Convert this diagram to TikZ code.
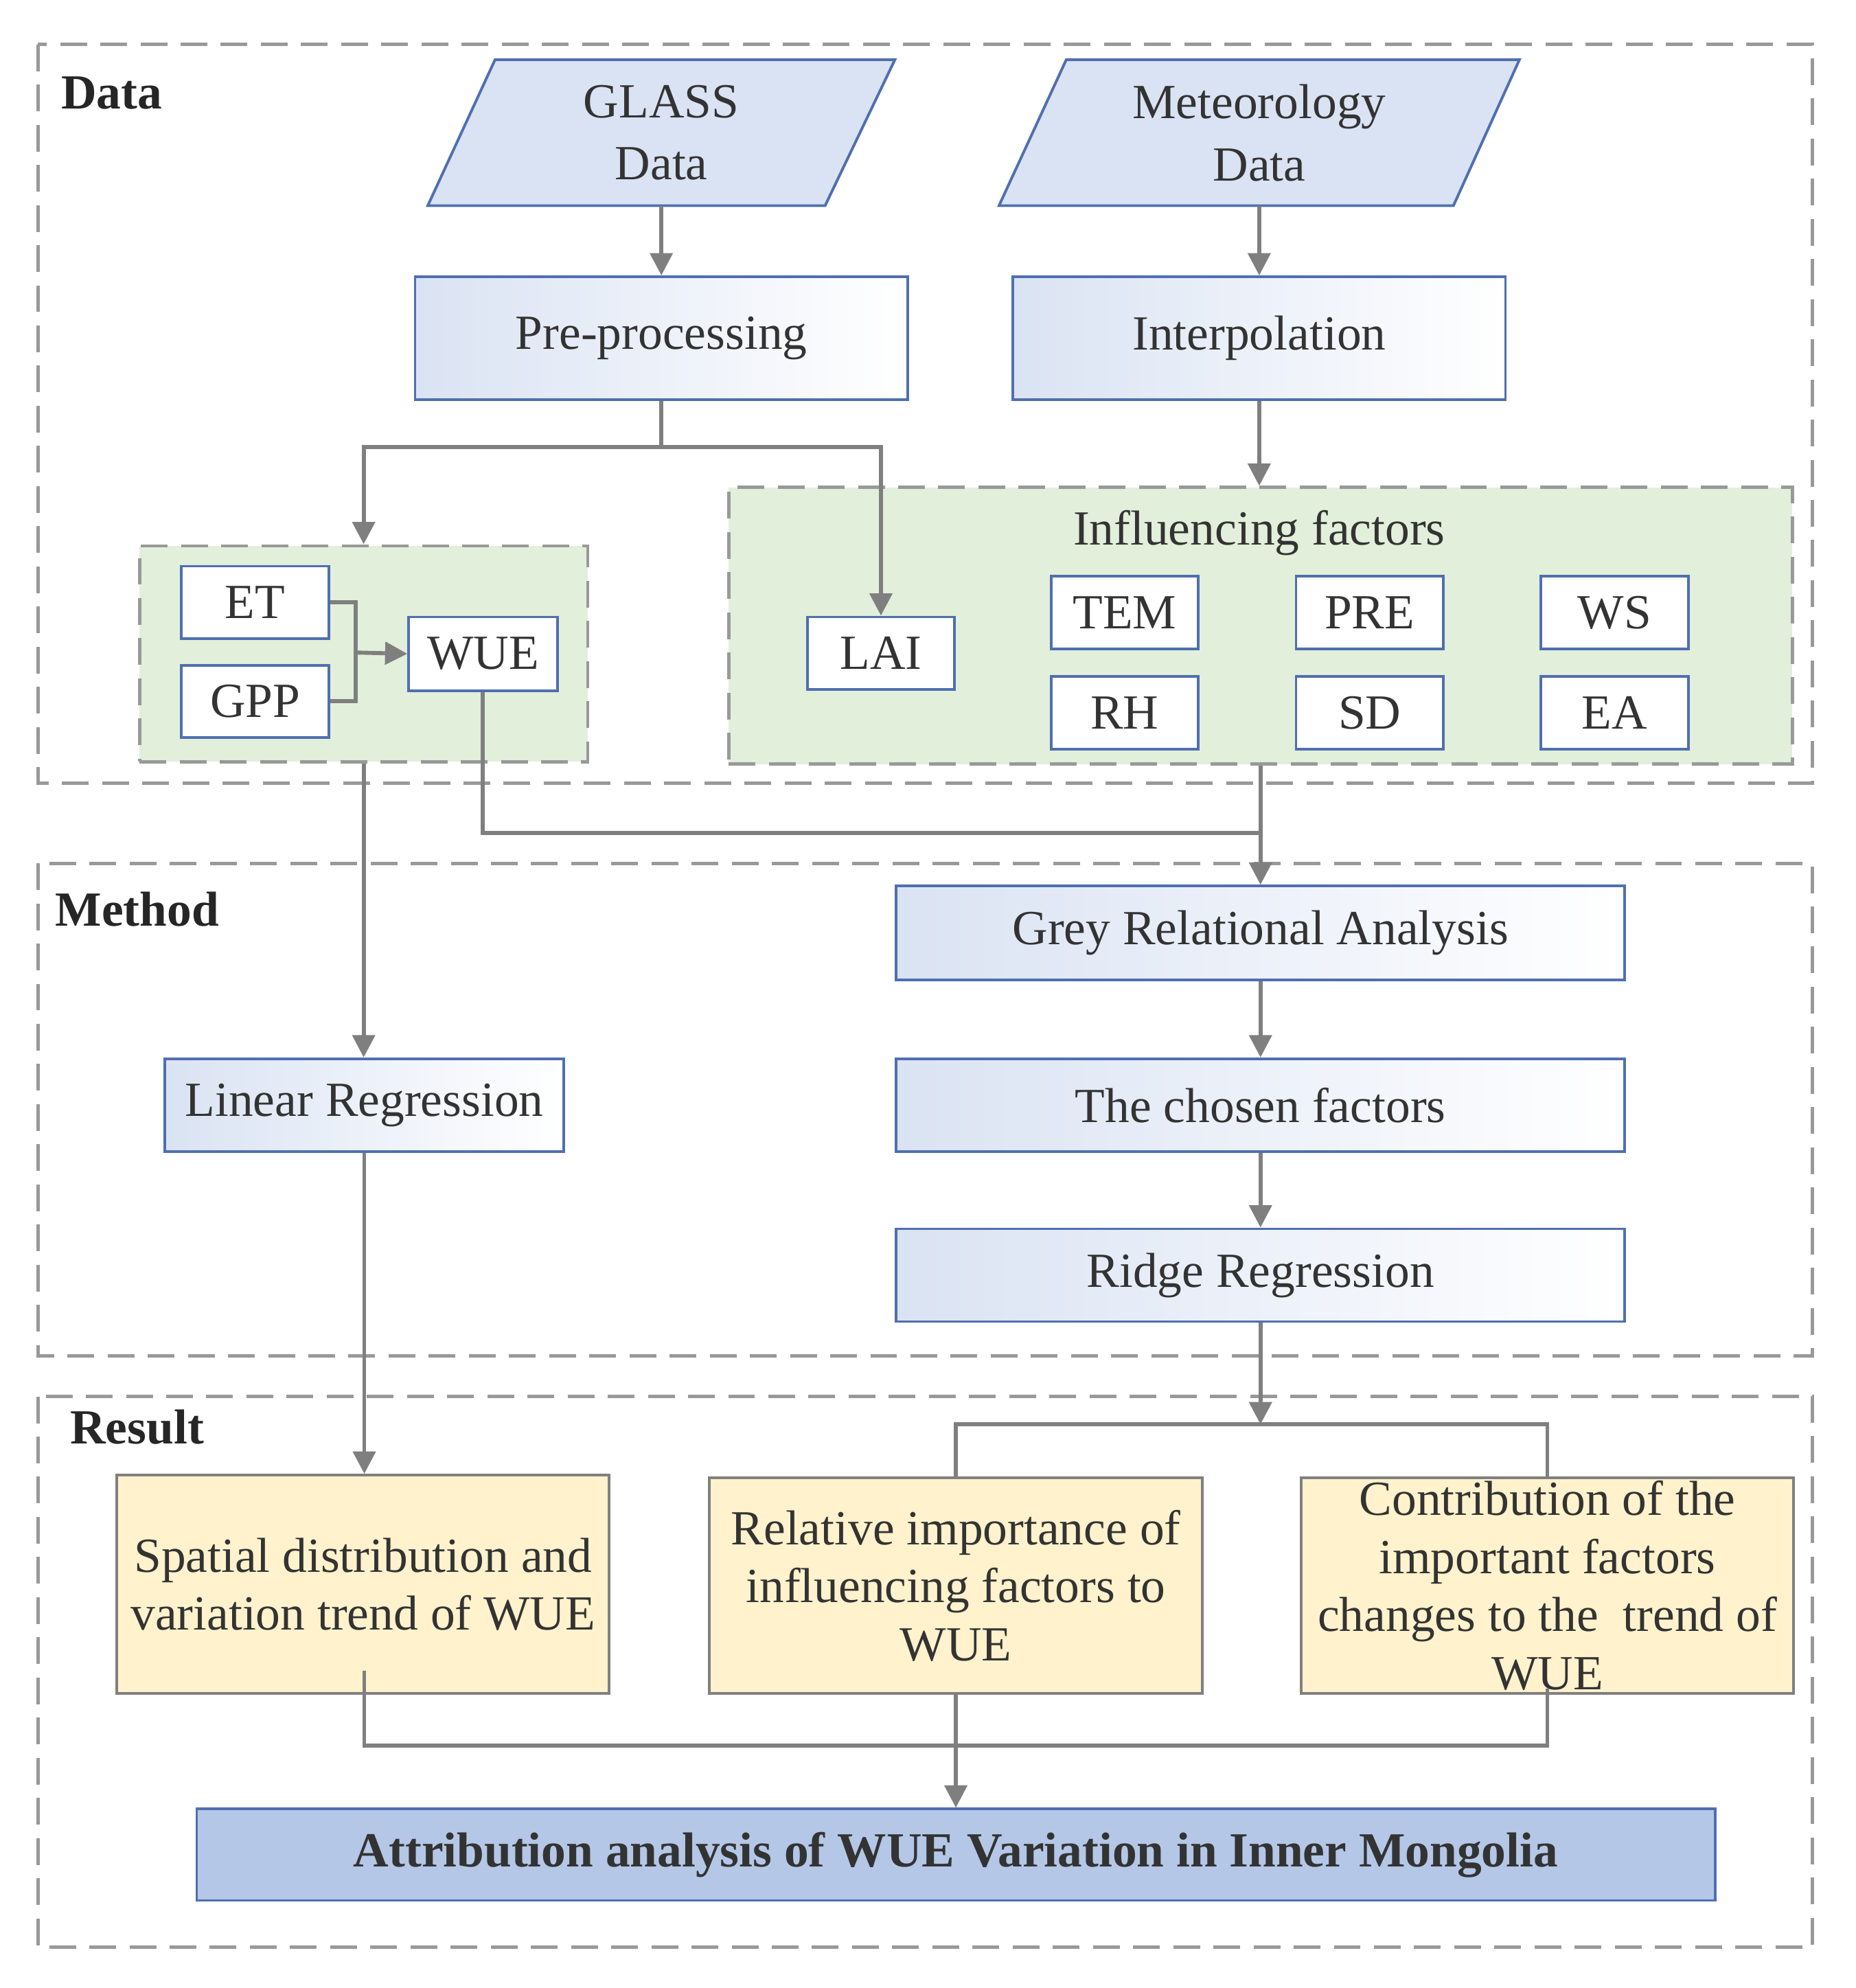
\documentclass[tikz,border=0pt]{standalone}
\usepackage{fontspec}
\setmainfont{Liberation Serif}
\usetikzlibrary{arrows.meta}
\definecolor{bord}{HTML}{4F6FB0}
\definecolor{lb}{HTML}{DAE3F3}
\definecolor{grn}{HTML}{E2EFDA}
\definecolor{yel}{HTML}{FFF2CC}
\definecolor{fin}{HTML}{B4C7E7}
\definecolor{ar}{HTML}{7F7F7F}
\newcommand\Bx[7]{\node[#6, minimum width={(#4-#2)*0.02cm}, minimum height={(#5-#3)*0.02cm}] (#1) at ({(#2+#4)/2},{(#3+#5)/2}) {#7};}
\tikzset{
 txt/.style={font=\fontsize{22}{26}\selectfont, text=black!80, align=center, inner sep=0pt},
 bl/.style={txt, draw=bord, line width=1.2pt, left color=lb, right color=white},
 wb/.style={txt, draw=bord, line width=1.2pt, fill=white},
 yb/.style={txt, draw=gray, line width=1.2pt, fill=yel},
 fb/.style={txt, draw=bord, line width=1.2pt, fill=fin, font=\bfseries\fontsize{22}{26}\selectfont},
 dbox/.style={draw=gray!80, dashed, dash pattern=on 12pt off 6pt, line width=1.5pt},
 gbox/.style={dbox, fill=grn},
 ln/.style={draw=ar, line width=1.8pt},
 arr/.style={ln, -{Triangle[length=10pt,width=10pt]}},
 lab/.style={font=\bfseries\fontsize{22}{26}\selectfont, text=black!85}
}
\begin{document}
\begin{tikzpicture}[x=0.02cm,y=-0.02cm]
\useasboundingbox (0,0) rectangle (1462,1566);
\draw[dbox] (30,35) rectangle (1428,617);
\draw[dbox] (30,680) rectangle (1428,1068);
\draw[dbox] (30,1100) rectangle (1428,1534);
\node[lab] (ldata) at (88,73) {Data};
\node[lab] (lmeth) at (108,716) {Method};
\node[lab] (lres) at (108,1124) {Result};
\draw[bord, line width=1.2pt, fill=lb] (390,47) -- (705,47) -- (650,162) -- (337,162) -- cycle;
\draw[bord, line width=1.2pt, fill=lb] (840,47) -- (1197,47) -- (1145,162) -- (787,162) -- cycle;
\node[txt, minimum width=5cm, minimum height=2.3cm] (glass) at (521,104.5) {GLASS\\[2pt]Data};
\node[txt, minimum width=6cm, minimum height=2.3cm] (met) at (992,104.5) {Meteorology\\[2pt]Data};
\Bx{pre}{327}{218}{715}{315}{bl}{Pre-processing}
\Bx{interp}{798}{218}{1186}{315}{bl}{Interpolation}
\Bx{gl}{110}{430}{463}{600}{gbox}{}
\Bx{gr}{574}{384}{1412}{602}{gbox}{}
\node[txt] (inf) at (992,420) {Influencing factors};
\Bx{et}{143}{446}{259}{503}{wb}{ET}
\Bx{gpp}{143}{524}{259}{581}{wb}{GPP}
\Bx{wue}{322}{486}{439}{544}{wb}{WUE}
\Bx{lai}{636}{486}{752}{543}{wb}{LAI}
\Bx{tem}{828}{454}{944}{511}{wb}{TEM}
\Bx{prec}{1021}{454}{1137}{511}{wb}{PRE}
\Bx{ws}{1214}{454}{1330}{511}{wb}{WS}
\Bx{rh}{828}{533}{944}{590}{wb}{RH}
\Bx{sd}{1021}{533}{1137}{590}{wb}{SD}
\Bx{ea}{1214}{533}{1330}{590}{wb}{EA}
\Bx{grey}{706}{698}{1280}{772}{bl}{Grey Relational Analysis}
\Bx{chosen}{706}{834}{1280}{907}{bl}{The chosen factors}
\Bx{ridge}{706}{968}{1280}{1041}{bl}{Ridge Regression}
\Bx{lin}{130}{834}{444}{907}{bl}{Linear Regression}
\Bx{spat}{92}{1162}{480}{1334}{yb}{Spatial distribution and\\variation trend of WUE}
\Bx{rel}{559}{1164}{947}{1334}{yb}{Relative importance of\\influencing factors to\\WUE}
\Bx{con}{1025}{1164}{1413}{1334}{yb}{Contribution of the\\important factors\\changes to the\ \ trend of\\WUE}
\Bx{final}{155}{1425}{1351}{1497}{fb}{Attribution analysis of WUE Variation in Inner Mongolia}
\coordinate (j1) at (521,352);
\coordinate (j2) at (280,514);
\coordinate (j3) at (993,656);
\coordinate (j4) at (993,1122);
\coordinate (j5) at (753,1375);
\draw[arr] (glass.south) -- (pre.north);
\draw[arr] (met.south) -- (interp.north);
\draw[ln] (pre.south) -- (j1);
\draw[arr] (j1) -| (gl.north);
\draw[arr] (j1) -| (lai.north);
\draw[arr] (interp.south) -- (interp.south |- gr.north);
\draw[ln] (et.east) -| (j2);
\draw[ln] (gpp.east) -| (j2);
\draw[arr] (j2) -- (wue.west);
\draw[ln] (wue.south) |- (j3);
\draw[arr] (gr.south) -- (gr.south |- grey.north);
\draw[arr] (gl.south) -- (gl.south |- lin.north);
\draw[arr] (grey.south) -- (chosen.north);
\draw[arr] (chosen.south) -- (ridge.north);
\draw[arr] (lin.south) -- (lin.south |- spat.north);
\draw[arr] (ridge.south) -- (j4);
\draw[ln] (j4) -| (rel.north);
\draw[ln] (j4) -| (con.north);
\draw[ln] (287,1316) |- (j5);
\draw[ln] (1219,1330) |- (j5);
\draw[arr] (rel.south) -- (final.north);
\end{tikzpicture}
\end{document}
